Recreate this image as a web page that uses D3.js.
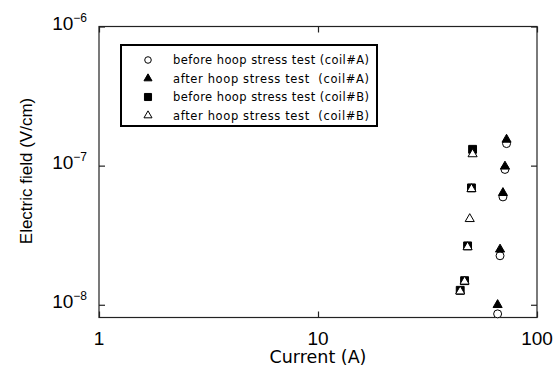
<!DOCTYPE html>
<html>
<head>
<meta charset="utf-8">
<script src="https://cdn.jsdelivr.net/npm/d3@7"></script>
<style>
  body { margin: 0; background: #fff; }
  svg { display: block; }
  .tick-label { font-family: "Liberation Sans", Arial, sans-serif; font-size: 19px; fill: #000; }
  .legend text { font-family: "DejaVu Sans", sans-serif; font-size: 11.5px; fill: #000; }
</style>
</head>
<body>
<div id="chart"></div>
<script>
// coil#A, before hoop stress test (open circles)
const beforeA = [
  { x: 72.6, y: 1.44e-7 },
  { x: 71.4, y: 9.39e-8 },
  { x: 69.9, y: 5.96e-8 },
  { x: 67.8, y: 2.25e-8 },
  { x: 66.1, y: 8.6e-9 }
];
// coil#A, after hoop stress test (filled triangles)
const afterA = [
  { x: 72.6, y: 1.54e-7 },
  { x: 71.4, y: 9.87e-8 },
  { x: 69.9, y: 6.37e-8 },
  { x: 67.8, y: 2.50e-8 },
  { x: 66.1, y: 9.98e-9 }
];
// coil#B, before hoop stress test (filled squares)
const beforeB = [
  { x: 50.8, y: 1.31e-7 },
  { x: 50.2, y: 6.92e-8 },
  { x: 48.2, y: 2.65e-8 },
  { x: 46.7, y: 1.49e-8 },
  { x: 44.6, y: 1.27e-8 }
];
// coil#B, after hoop stress test (open triangles)
const afterB = [
  { x: 50.8, y: 1.21e-7 },
  { x: 50.2, y: 6.8e-8 },
  { x: 49.3, y: 4.14e-8 },
  { x: 48.2, y: 2.6e-8 },
  { x: 46.7, y: 1.47e-8 },
  { x: 44.6, y: 1.25e-8 }
];

const xTicks = [1, 10, 100];
const yTicks = [1e-8, 1e-7, 1e-6];
const legendLabels = [
  'before hoop stress test (coil#A)',
  'after hoop stress test  (coil#A)',
  'before hoop stress test (coil#B)',
  'after hoop stress test  (coil#B)'
];

const width = 560;
const height = 367;
const plotLeft = 99, plotRight = 537, plotTop = 26.5, plotBottom = 317.5;

const svg = d3.select('#chart')
              .append('svg')
              .attr('width', width)
              .attr('height', height);

const x = d3.scaleLog().domain([1, 100]).range([plotLeft, plotRight]);
const y = d3.scaleLog().domain([8.1e-9, 1e-6]).range([plotBottom, plotTop]);

// frame
svg.append('rect')
   .attr('x', plotLeft).attr('y', plotTop)
   .attr('width', plotRight - plotLeft).attr('height', plotBottom - plotTop)
   .attr('fill', 'none')
   .attr('stroke', '#222')
   .attr('stroke-width', 1.2);

// inward ticks on all four sides
const tickLen = 6;
svg.append('g')
   .attr('transform', `translate(0, ${plotBottom})`)
   .call(d3.axisTop(x).tickValues(xTicks).tickSize(tickLen).tickFormat(''))
   .call(g => g.select('.domain').remove());
svg.append('g')
   .attr('transform', `translate(0, ${plotTop})`)
   .call(d3.axisBottom(x).tickValues(xTicks).tickSize(tickLen).tickFormat(''))
   .call(g => g.select('.domain').remove());
svg.append('g')
   .attr('transform', `translate(${plotLeft}, 0)`)
   .call(d3.axisRight(y).tickValues(yTicks).tickSize(tickLen).tickFormat(''))
   .call(g => g.select('.domain').remove());
svg.append('g')
   .attr('transform', `translate(${plotRight}, 0)`)
   .call(d3.axisLeft(y).tickValues(yTicks).tickSize(tickLen).tickFormat(''))
   .call(g => g.select('.domain').remove());
svg.selectAll('.tick line').attr('stroke', '#222').attr('stroke-width', 1.2);

// x tick labels
svg.append('g')
   .selectAll('text')
   .data(xTicks)
   .enter()
   .append('text')
   .attr('class', 'tick-label')
   .attr('x', d => x(d))
   .attr('y', 344.5)
   .attr('text-anchor', 'middle')
   .text(d => d);

// y tick labels, 10 with superscript exponent
const yLab = svg.append('g')
                .selectAll('text')
                .data(yTicks)
                .enter()
                .append('text')
                .attr('class', 'tick-label')
                .attr('x', 87)
                .attr('y', d => y(d) + 3.5)
                .attr('text-anchor', 'end');
yLab.append('tspan').text('10');
yLab.append('tspan')
    .attr('dy', -8.5)
    .attr('font-size', 12)
    .text(d => '\u2212' + Math.round(-Math.log10(d)));

// axis titles
svg.append('text')
   .attr('x', x(10))
   .attr('y', 363)
   .attr('text-anchor', 'middle')
   .style('font-family', '"DejaVu Sans", sans-serif')
   .style('font-size', '17.5px')
   .text('Current (A)');

svg.append('text')
   .attr('transform', `translate(32, 171) rotate(-90)`)
   .attr('text-anchor', 'middle')
   .style('font-family', '"Liberation Sans", Arial, sans-serif')
   .style('font-size', '17px')
   .text('Electric field (V/cm)');

// markers
const circle = d3.symbol().type(d3.symbolCircle).size(50);
const tri = d3.symbol().type(d3.symbolTriangle).size(36);
const square = d3.symbol().type(d3.symbolSquare).size(62);

const plot = svg.append('g');
function drawSeries(data, sym, fill) {
  plot.append('g')
      .selectAll('path')
      .data(data)
      .enter()
      .append('path')
      .attr('transform', d => `translate(${x(d.x)}, ${y(d.y)})`)
      .attr('d', sym)
      .attr('fill', fill)
      .attr('stroke', '#000')
      .attr('stroke-width', 1);
}
drawSeries(beforeA, circle, '#fff');
drawSeries(afterA, tri, '#000');
drawSeries(beforeB, square, '#000');
drawSeries(afterB, tri, '#fff');

// legend
const legend = svg.append('g').attr('class', 'legend');
legend.append('rect')
      .attr('x', 121).attr('y', 45)
      .attr('width', 256).attr('height', 81)
      .attr('fill', '#fff')
      .attr('stroke', '#000')
      .attr('stroke-width', 2);

const legendSyms = [
  { sym: d3.symbol().type(d3.symbolCircle).size(34), fill: '#fff' },
  { sym: d3.symbol().type(d3.symbolTriangle).size(28), fill: '#000' },
  { sym: d3.symbol().type(d3.symbolSquare).size(50), fill: '#000' },
  { sym: d3.symbol().type(d3.symbolTriangle).size(28), fill: '#fff' }
];
const rowY = d3.scaleLinear().domain([0, 3]).range([60, 115.5]);
legendLabels.forEach((label, i) => {
  legend.append('path')
        .attr('transform', `translate(148, ${rowY(i)})`)
        .attr('d', legendSyms[i].sym)
        .attr('fill', legendSyms[i].fill)
        .attr('stroke', '#000')
        .attr('stroke-width', 1);
  legend.append('text')
        .attr('x', 173)
        .attr('y', rowY(i) + 4)
        .attr('textLength', 196)
        .attr('lengthAdjust', 'spacing')
        .style('white-space', 'pre')
        .text(label);
});
</script>
</body>
</html>
